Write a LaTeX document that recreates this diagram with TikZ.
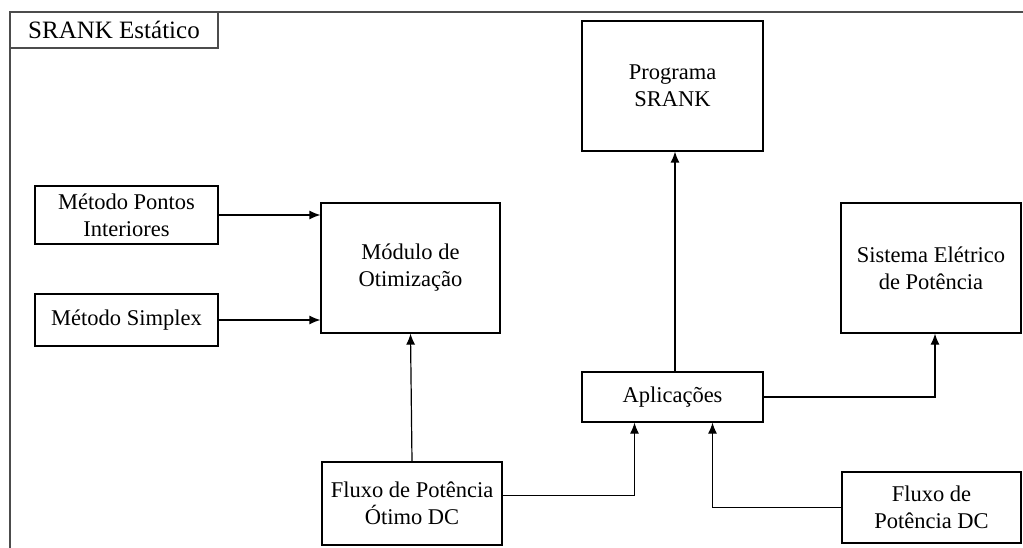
\documentclass[tikz,border=0pt]{standalone}
\usepackage{fontspec}
\setmainfont{Liberation Serif}
\usetikzlibrary{arrows.meta}
\begin{document}
\begin{tikzpicture}[x=1pt,y=-1pt,
  font=\fontsize{22.5}{27}\selectfont,
  box/.style={draw=black, line width=1.2pt, rectangle, align=center, inner sep=0pt},
  frame/.style={draw=black!70, line width=1.3pt},
  link/.style={draw=black, line width=1.2pt},
  arr/.style={link, -{Latex[length=11pt,width=9pt]}}]
\useasboundingbox (0,0) rectangle (1023,548);

% outer frame and its title tab
\draw[frame] (10,548) -- (10,12) -- (1023,12);
\node[box, draw=black!70, line width=1.3pt, minimum width=208pt, minimum height=36pt,
  font=\fontsize{25}{30}\selectfont] (lbl) at (114,30) {SRANK Estático};

% blocks
\node[box, minimum width=181pt, minimum height=130pt] (prog) at (672.5,86) {Programa\\SRANK};
\node[box, minimum width=183pt, minimum height=58pt] (mpi) at (126.5,215) {Método Pontos\\Interiores};
\node[box, minimum width=183pt, minimum height=52pt] (msx) at (126.5,320) {Método Simplex};
\node[box, minimum width=179pt, minimum height=130pt] (mod) at (410.5,268) {Módulo de\\Otimização};
\node[box, minimum width=180pt, minimum height=130pt] (sep) at (931,268) {Sistema Elétrico\\de Potência};
\node[box, minimum width=181pt, minimum height=50pt] (apl) at (672.5,397) {Aplicações};
\node[box, minimum width=180pt, minimum height=83pt] (fot) at (412,503.5) {Fluxo de Potência\\Ótimo DC};
\node[box, minimum width=179pt, minimum height=71pt] (fdc) at (931.5,507.5) {Fluxo de\\Potência DC};

% connectors
\coordinate (fotout) at ([yshift=8pt]fot.east);
\coordinate (aplinL) at ([xshift=-38pt]apl.south);
\coordinate (aplinR) at ([xshift=40pt]apl.south);
\coordinate (aplup) at ([xshift=2.5pt]apl.north);

\draw[arr] (mpi.east) -- (mod.west |- mpi.east);
\draw[arr] (msx.east) -- (mod.west |- msx.east);
\draw[arr] (fot.north) -- (mod.south);
\draw[arr] (fotout) -| (aplinL);
\draw[arr] (fdc.west) -| (aplinR);
\draw[arr] (aplup) -- (prog.south -| aplup);
\draw[arr] (apl.east) -| ([xshift=4pt]sep.south);
\end{tikzpicture}
\end{document}
